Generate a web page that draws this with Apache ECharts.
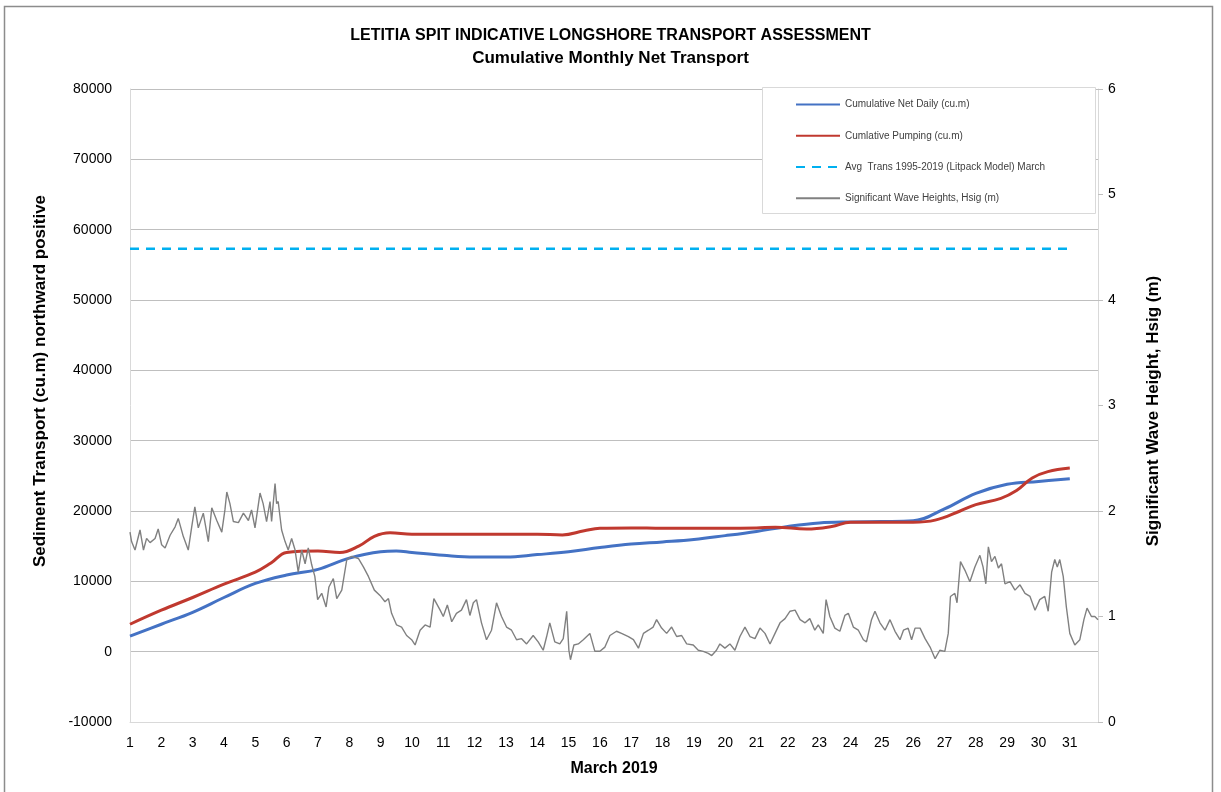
<!DOCTYPE html>
<html>
<head>
<meta charset="utf-8">
<title>Letitia Spit Longshore Transport</title>
<script src="https://cdn.jsdelivr.net/npm/echarts@6/dist/echarts.min.js"></script>
<style>
html,body{margin:0;padding:0;background:#fff;}
#container{width:1221px;height:792px;}
</style>
</head>
<body>
<div id="container"></div>
<script>
var seriesNames = ['Cumulative Net Daily (cu.m)', 'Cumlative Pumping (cu.m)',
    'Avg  Trans 1995-2019 (Litpack Model) March', 'Significant Wave Heights, Hsig (m)'];

// cumulative net daily transport
var netDays = [1, 2, 3, 4, 5, 6, 7, 8, 9, 9.5, 10, 11, 12, 13, 14, 15, 16, 17, 18, 19, 20,
    21, 22, 23, 24, 25, 26, 27, 28, 29, 30, 31];
var netValues = [2200, 3900, 5600, 7700, 9700, 10900, 11700, 13300, 14200, 14300, 14100, 13700,
    13450, 13450, 13800, 14200, 14800, 15300, 15600, 15950, 16500, 17100, 17800, 18300, 18450,
    18500, 18600, 20300, 22500, 23800, 24200, 24600];

// cumulative pumping
var pumpDays = [1, 2, 3, 4, 5, 5.5, 6, 7, 7.7, 8.3, 8.8, 9.3, 10, 11, 12, 13, 14, 14.8, 15.5, 16,
    17, 18, 19, 20, 21, 21.6, 22.6, 23.4, 24, 25, 26, 26.7, 27.5, 28, 28.8, 29.3, 29.8, 30.3, 31];
var pumpValues = [3900, 5900, 7700, 9600, 11300, 12600, 14100, 14300, 14100, 15000, 16400, 16900,
    16700, 16700, 16700, 16700, 16700, 16600, 17200, 17550, 17600, 17550, 17550, 17550, 17600,
    17700, 17450, 17800, 18400, 18400, 18400, 18700, 20000, 20900, 21800, 22900, 24700, 25600, 26100];

// litpack average
var avgDays = [1, 31];
var avgValues = [57300, 57300];

// wave heights (m)
var waveDays = [1.00, 1.05, 1.16, 1.32, 1.43, 1.53, 1.64, 1.80, 1.90, 2.01, 2.12, 2.28, 2.44, 2.54,
    2.70, 2.86, 2.97, 3.07, 3.18, 3.34, 3.50, 3.61, 3.77, 3.93, 4.03, 4.09, 4.19, 4.30, 4.46, 4.62,
    4.78, 4.88, 4.99, 5.15, 5.25, 5.36, 5.47, 5.52, 5.63, 5.68, 5.73, 5.84, 5.95, 6.05, 6.16, 6.27,
    6.37, 6.48, 6.59, 6.69, 6.80, 6.90, 6.99, 7.12, 7.26, 7.35, 7.49, 7.60, 7.76, 7.92, 8.08, 8.29,
    8.45, 8.61, 8.80, 8.98, 9.14, 9.25, 9.35, 9.51, 9.67, 9.83, 9.99, 10.10, 10.26, 10.42, 10.58,
    10.70, 10.90, 11.00, 11.13, 11.27, 11.42, 11.58, 11.74, 11.85, 11.96, 12.06, 12.22, 12.38,
    12.54, 12.70, 12.86, 13.02, 13.18, 13.34, 13.50, 13.66, 13.87, 14.03, 14.19, 14.30, 14.40,
    14.56, 14.72, 14.83, 14.94, 15.01, 15.06, 15.17, 15.31, 15.47, 15.68, 15.84, 16.00, 16.16,
    16.32, 16.53, 16.69, 16.91, 17.07, 17.23, 17.39, 17.55, 17.70, 17.81, 17.97, 18.13, 18.29,
    18.45, 18.61, 18.77, 18.98, 19.14, 19.30, 19.46, 19.57, 19.72, 19.83, 19.99, 20.15, 20.31,
    20.47, 20.63, 20.79, 20.95, 21.11, 21.27, 21.43, 21.59, 21.75, 21.91, 22.07, 22.23, 22.39,
    22.55, 22.70, 22.86, 22.97, 23.13, 23.22, 23.34, 23.50, 23.66, 23.82, 23.93, 24.09, 24.25,
    24.41, 24.51, 24.67, 24.78, 24.94, 25.10, 25.26, 25.42, 25.58, 25.69, 25.84, 25.95, 26.06,
    26.22, 26.38, 26.54, 26.70, 26.85, 27.01, 27.12, 27.19, 27.33, 27.40, 27.51, 27.65, 27.81,
    27.97, 28.13, 28.23, 28.32, 28.40, 28.50, 28.61, 28.72, 28.82, 28.93, 29.09, 29.25, 29.41,
    29.57, 29.73, 29.89, 30.04, 30.20, 30.31, 30.42, 30.52, 30.60, 30.68, 30.79, 30.89, 31.00,
    31.16, 31.32, 31.45, 31.55, 31.69, 31.80, 31.90];
var waveHeights = [1.80, 1.71, 1.63, 1.82, 1.63, 1.74, 1.70, 1.74, 1.83, 1.68, 1.65, 1.77, 1.85, 1.93,
    1.76, 1.63, 1.85, 2.04, 1.84, 1.98, 1.71, 2.03, 1.91, 1.80, 2.01, 2.18, 2.07, 1.90, 1.89, 1.98,
    1.91, 2.01, 1.84, 2.17, 2.07, 1.90, 2.09, 1.90, 2.26, 2.07, 2.09, 1.82, 1.71, 1.63, 1.74, 1.63,
    1.42, 1.63, 1.50, 1.65, 1.49, 1.38, 1.16, 1.22, 1.09, 1.28, 1.36, 1.17, 1.25, 1.54, 1.57, 1.55,
    1.47, 1.38, 1.25, 1.20, 1.14, 1.17, 1.03, 0.92, 0.90, 0.82, 0.78, 0.73, 0.87, 0.92, 0.90,
    1.17, 1.06, 1.00, 1.11, 0.95, 1.03, 1.06, 1.16, 1.01, 1.13, 1.16, 0.94, 0.78,
    0.87, 1.13, 1.00, 0.90, 0.87, 0.78, 0.79, 0.74, 0.82, 0.76, 0.68, 0.81, 0.94,
    0.76, 0.74, 0.79, 1.05, 0.68, 0.59, 0.73, 0.74, 0.78, 0.84, 0.67, 0.67, 0.71,
    0.82, 0.86, 0.84, 0.81, 0.78, 0.70, 0.84, 0.87, 0.90, 0.97, 0.89, 0.84, 0.90,
    0.81, 0.82, 0.74, 0.73, 0.68, 0.67, 0.65, 0.63, 0.68, 0.74, 0.70, 0.74, 0.68,
    0.81, 0.90, 0.81, 0.79, 0.89, 0.84, 0.74, 0.84, 0.94, 0.98, 1.05, 1.06, 0.97,
    0.94, 0.98, 0.87, 0.92, 0.84, 1.16, 1.00, 0.89, 0.86, 1.01, 1.03, 0.90, 0.87,
    0.78, 0.76, 0.97, 1.05, 0.94, 0.87, 0.97, 0.86, 0.78, 0.87, 0.89, 0.78, 0.89,
    0.89, 0.79, 0.71, 0.60, 0.68, 0.67, 0.84, 1.19, 1.22, 1.13, 1.52, 1.44, 1.33,
    1.47, 1.58, 1.47, 1.31, 1.66, 1.52, 1.57, 1.46, 1.50, 1.31, 1.33, 1.25, 1.30,
    1.22, 1.19, 1.06, 1.16, 1.19, 1.05, 1.42, 1.54, 1.47, 1.54, 1.38, 1.09, 0.84,
    0.73, 0.78, 0.97, 1.08, 1.00, 1.00, 0.97];

function pairs(xs, ys) {
    var out = [];
    for (var i = 0; i < xs.length; i++) {
        out.push([xs[i], ys[i]]);
    }
    return out;
}

var font = '"Liberation Sans", Arial, sans-serif';
var myChart = echarts.init(document.getElementById('container'));

var option = {
    backgroundColor: '#fff',
    animation: false,
    textStyle: { fontFamily: font },
    title: {
        text: 'LETITIA SPIT INDICATIVE LONGSHORE TRANSPORT ASSESSMENT',
        subtext: 'Cumulative Monthly Net Transport',
        left: 'center',
        top: 23,
        itemGap: 6,
        textStyle: { fontSize: 16, fontWeight: 'bold', color: '#000', fontFamily: font },
        subtextStyle: { fontSize: 17, fontWeight: 'bold', color: '#000', fontFamily: font }
    },
    graphic: [
        {
            type: 'rect',
            z: 0,
            shape: { x: 4.5, y: 6.5, width: 1208, height: 800 },
            style: { fill: 'none', stroke: '#8c8c8c', lineWidth: 1.5 }
        },
        {
            type: 'rect',
            z: 5,
            shape: { x: 762.5, y: 87.5, width: 333, height: 126 },
            style: { fill: '#fff', stroke: '#d9d9d9', lineWidth: 1 }
        },
        // axis titles
        {
            type: 'text',
            x: 40,
            y: 381,
            rotation: Math.PI / 2,
            style: {
                text: 'Sediment Transport (cu.m) northward positive',
                font: 'bold 17px ' + font,
                fill: '#000',
                textAlign: 'center',
                textVerticalAlign: 'middle'
            }
        },
        {
            type: 'text',
            x: 1153,
            y: 411,
            rotation: Math.PI / 2,
            style: {
                text: 'Significant Wave Height, Hsig (m)',
                font: 'bold 17px ' + font,
                fill: '#000',
                textAlign: 'center',
                textVerticalAlign: 'middle'
            }
        }
    ],
    legend: {
        z: 6,
        orient: 'vertical',
        left: 790,
        top: 94,
        itemWidth: 44,
        itemHeight: 14,
        itemGap: 20,
        itemStyle: { opacity: 0 },
        textStyle: { fontSize: 10, color: '#404040', fontFamily: font },
        data: seriesNames
    },
    grid: { left: 130, right: 123, top: 89, bottom: 70 },
    xAxis: {
        type: 'value',
        min: 1,
        max: 31.9,
        interval: 1,
        name: 'March 2019',
        nameLocation: 'middle',
        nameGap: 39,
        nameTextStyle: { fontSize: 16, fontWeight: 'bold', color: '#000' },
        axisLine: { onZero: false, lineStyle: { color: '#d9d9d9' } },
        axisTick: { show: false },
        splitLine: { show: false },
        axisLabel: {
            fontSize: 14,
            color: '#000',
            margin: 14,
            showMaxLabel: false,
            formatter: function (v) {
                return (v === Math.round(v) && v <= 31) ? String(v) : '';
            }
        }
    },
    yAxis: [
        {
            type: 'value',
            min: -10000,
            max: 80000,
            interval: 10000,
            axisLine: { show: true, lineStyle: { color: '#d9d9d9' } },
            axisTick: { show: false },
            axisLabel: {
                fontSize: 14,
                color: '#000',
                margin: 18,
                formatter: function (v) { return String(v); }
            },
            splitLine: { lineStyle: { color: '#bfbfbf', width: 1 } }
        },
        {
            type: 'value',
            min: 0,
            max: 6,
            interval: 1,
            position: 'right',
            axisLine: { show: true, lineStyle: { color: '#d9d9d9' } },
            axisTick: { show: true, length: 5, lineStyle: { color: '#bfbfbf' } },
            axisLabel: { fontSize: 14, color: '#000', margin: 10 },
            splitLine: { show: false }
        }
    ],
    series: [
        {
            name: seriesNames[0],
            type: 'line',
            smooth: 0.4,
            symbol: 'none',
            data: pairs(netDays, netValues),
            color: '#4472C4',
            lineStyle: { width: 3, color: '#4472C4' }
        },
        {
            name: seriesNames[1],
            type: 'line',
            smooth: 0.4,
            symbol: 'none',
            data: pairs(pumpDays, pumpValues),
            color: '#C0392F',
            lineStyle: { width: 3, color: '#C0392F' }
        },
        {
            name: seriesNames[2],
            type: 'line',
            symbol: 'none',
            data: pairs(avgDays, avgValues),
            color: '#00B0F0',
            lineStyle: { width: 2.5, color: '#00B0F0', type: [9, 7] }
        },
        {
            name: seriesNames[3],
            type: 'line',
            yAxisIndex: 1,
            symbol: 'none',
            data: pairs(waveDays, waveHeights),
            color: '#808080',
            lineStyle: { width: 1.4, color: '#808080' }
        }
    ]
};

myChart.setOption(option);
</script>
</body>
</html>
